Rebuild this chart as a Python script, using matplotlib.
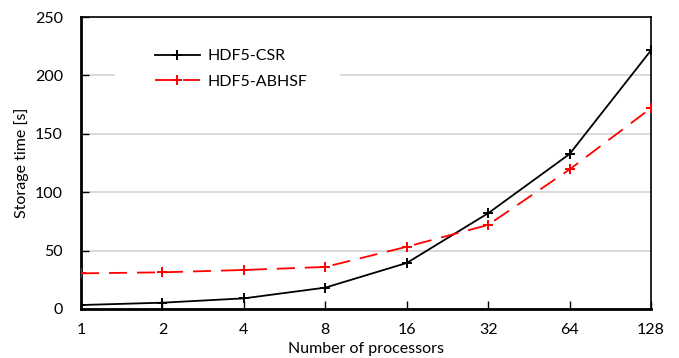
import matplotlib.pyplot as plt
from matplotlib.patches import Rectangle
import numpy as np

procs = ["1", "2", "4", "8", "16", "32", "64", "128"]
csr = [3.4, 5.4, 9.1, 18.3, 39.4, 82, 132.7, 221.5]
abhsf = [30.5, 31.4, 33.4, 36, 53.3, 72, 119.5, 172]

plt.rcParams['font.family'] = ['Lato', 'DejaVu Sans']

fig = plt.figure(figsize=(6.79, 3.58), dpi=100)
ax = fig.add_axes([0.1193, 0.1369, 0.8395, 0.8156])

x = np.arange(len(procs))
ax.yaxis.grid(color='#d0d0d0', linestyle='-', linewidth=1.1, zorder=0)
ax.set_axisbelow(True)
ax.plot(x, csr, color='black', linewidth=1.3, marker='+', markersize=7,
        markeredgewidth=1.4, label='HDF5-CSR', zorder=3)
ax.plot(x, abhsf, color='red', linewidth=1.3, linestyle=(0, (10, 5.5)), marker='+',
        markersize=7, markeredgewidth=1.4, label='HDF5-ABHSF', zorder=3)

# white box behind the legend, hides the gridline there
ax.add_patch(Rectangle((0.06, 0.74), 0.395, 0.2, transform=ax.transAxes,
                       facecolor='white', edgecolor='none', zorder=2))

ax.set_xlim(0, len(procs) - 1)
ax.set_ylim(0, 250)
ax.set_xticks(x)
ax.set_xticklabels(procs)
ax.set_yticks(np.arange(0, 251, 50))
ax.tick_params(direction='in', length=6, width=1, labelsize=11.5)
ax.tick_params(axis='x', pad=10)
ax.tick_params(axis='y', pad=13)
for s in ax.spines.values():
    s.set_linewidth(1.2)
ax.spines['left'].set_linewidth(2)
ax.spines['bottom'].set_linewidth(2)

ax.set_xlabel("Number of processors", fontsize=11.5, labelpad=4)
ax.set_ylabel("Storage time [s]", fontsize=11.5, labelpad=4)

leg = ax.legend(loc='upper left', bbox_to_anchor=(0.13, 0.89), frameon=False,
                fontsize=11.5, handlelength=2.8, borderpad=0, labelspacing=0.7,
                borderaxespad=0, handletextpad=0.45)
leg.set_zorder(5)

fig.savefig("out.png", dpi=100)
